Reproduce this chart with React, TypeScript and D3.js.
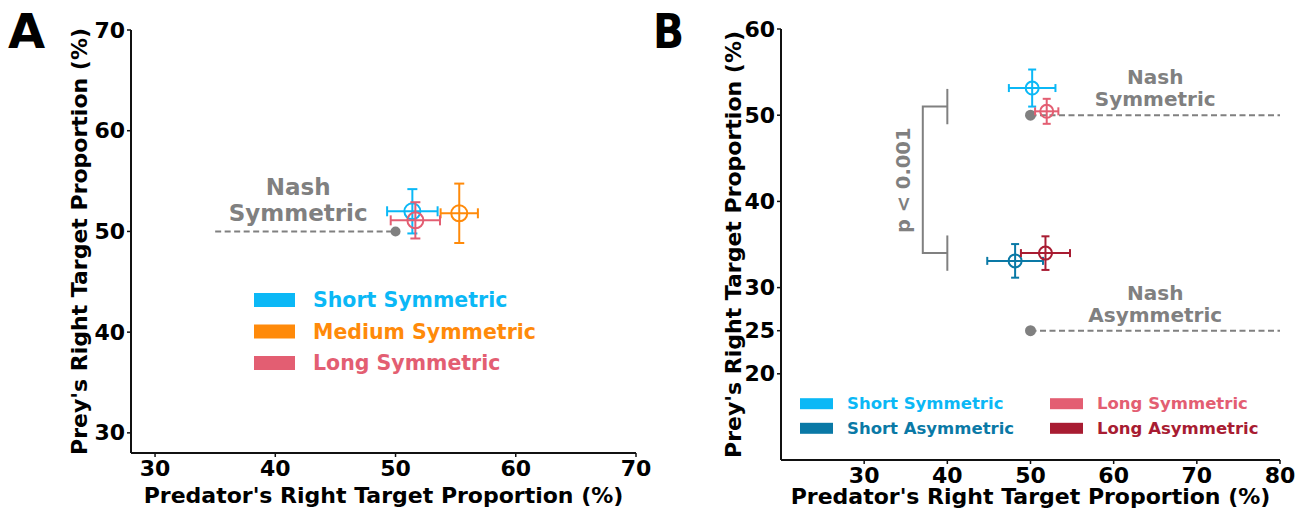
import React from "react";
import * as d3 from "d3";

// ---------- Data ----------
const groupsA = ["Short Symmetric", "Medium Symmetric", "Long Symmetric"];
const colorsA = ["#0BB8F6", "#FF8A0A", "#E35E72"];
const predA = [51.4, 55.3, 51.65];
const predErrA = [2.1, 1.55, 2.05];
const preyA = [52.0, 51.8, 51.1];
const preyErrA = [2.2, 2.95, 1.8];

const groupsB = ["Short Symmetric", "Long Symmetric", "Short Asymmetric", "Long Asymmetric"];
const colorsB = ["#0BB8F6", "#E35E72", "#0A79A6", "#A81C32"];
const predB = [50.2, 51.95, 48.15, 51.8];
const predErrB = [2.8, 1.4, 3.35, 2.95];
const preyB = [53.15, 50.45, 33.1, 34.0];
const preyErrB = [2.15, 1.45, 1.95, 1.95];

const xTicksA = [30, 40, 50, 60, 70];
const yTicksA = [30, 40, 50, 60, 70];
const xTicksB = [30, 40, 50, 60, 70, 80];
const yTicksB = [20, 25, 30, 40, 50, 60];

const nashA = [{ x: 50, y: 50, x0: 35, x1: 50 }];
const nashB = [
  { x: 50, y: 50, x0: 50, x1: 80 },
  { x: 50, y: 25, x0: 50, x1: 80 },
];
const nashLabelsA = [{ x: 41.9, lines: ["Nash", "Symmetric"], y: [53.6, 51.03] }];
const nashLabelsB = [
  { x: 65, lines: ["Nash", "Symmetric"], y: [53.6, 51.05] },
  { x: 65, lines: ["Nash", "Asymmetric"], y: [28.56, 26.0] },
];
const bracketB = { xv: 37.05, xt: 40, yTop: 51.0, yBot: 34.0, half: 2.05, label: "p < 0.001", lx: 34.78, ly: 42.45 };

const FONT = "DejaVu Sans";
const GRAY = "#808080";

function Axes({ x, y, xTicks, yTicks, xLabel, yLabel, yLabelX, xLabelY }: any) {
  const [x0, x1] = x.range();
  const [y0, y1] = y.range();
  return (
    <g fontFamily={FONT} fontWeight="bold">
      <line x1={x0} x2={x0} y1={y0} y2={y1} stroke="#111" strokeWidth={2} />
      <line x1={x0} x2={x1} y1={y0} y2={y0} stroke="#111" strokeWidth={2} />
      {xTicks.map((t: number) => (
        <g key={"x" + t}>
          <line x1={x(t)} x2={x(t)} y1={y0} y2={y0 + 4} stroke="#111" strokeWidth={1.5} />
          <text x={x(t)} y={y0 + 23} textAnchor="middle" fontSize={22} fill="#000">{t}</text>
        </g>
      ))}
      {yTicks.map((t: number) => (
        <g key={"y" + t}>
          <line x1={x0} x2={x0 - 4} y1={y(t)} y2={y(t)} stroke="#111" strokeWidth={1.5} />
          <text x={x0 - 6} y={y(t)} textAnchor="end" dominantBaseline="central" fontSize={22} fill="#000">{t}</text>
        </g>
      ))}
      <text x={(x0 + x1) / 2} y={xLabelY} textAnchor="middle" fontSize={22} fill="#000">{xLabel}</text>
      <text transform={`translate(${yLabelX},${(y0 + y1) / 2}) rotate(-90)`} textAnchor="middle" fontSize={22} fill="#000">{yLabel}</text>
    </g>
  );
}

function Points({ x, y, px, pxe, py, pye, colors, r, cap }: any) {
  return (
    <g fill="none" strokeWidth={2}>
      {px.map((_: number, i: number) => {
        const cx = x(px[i]);
        const cy = y(py[i]);
        const xa = x(px[i] - pxe[i]);
        const xb = x(px[i] + pxe[i]);
        const ya = y(py[i] - pye[i]);
        const yb = y(py[i] + pye[i]);
        const c = colors[i];
        return (
          <g key={i} stroke={c}>
            <line x1={xa} x2={xb} y1={cy} y2={cy} />
            <line x1={xa} x2={xa} y1={cy - cap} y2={cy + cap} />
            <line x1={xb} x2={xb} y1={cy - cap} y2={cy + cap} />
            <line x1={cx} x2={cx} y1={ya} y2={yb} />
            <line x1={cx - cap} x2={cx + cap} y1={ya} y2={ya} />
            <line x1={cx - cap} x2={cx + cap} y1={yb} y2={yb} />
            <circle cx={cx} cy={cy} r={r} />
          </g>
        );
      })}
    </g>
  );
}

export default function App() {
  const xA = d3.scaleLinear().domain([28, 70]).range([131, 636]);
  const yA = d3.scaleLinear().domain([28, 70]).range([453, 30]);
  const xB = d3.scaleLinear().domain([20, 80]).range([781, 1280]);
  const yB = d3.scaleLinear().domain([10, 60]).range([460, 29]);

  return (
    <svg width={1307} height={510} style={{ position: "absolute", left: 0, top: 0, background: "#fff" }}>
      {/* Panel labels */}
      <text x={8} y={48} fontFamily={FONT} fontWeight="bold" fontSize={48} fill="#000">A</text>
      <text x={653} y={48} fontFamily={FONT} fontWeight="bold" fontSize={48} fill="#000" transform="translate(653,0) scale(0.85,1) translate(-653,0)">B</text>

      {/* Panel A */}
      <Axes x={xA} y={yA} xTicks={xTicksA} yTicks={yTicksA}
        xLabel="Predator's Right Target Proportion (%)" yLabel="Prey's Right Target Proportion (%)"
        yLabelX={87} xLabelY={503} />
      {nashA.map((n, i) => (
        <g key={i}>
          <line x1={xA(n.x0)} x2={xA(n.x1)} y1={yA(n.y)} y2={yA(n.y)} stroke={GRAY} strokeWidth={2} strokeDasharray="6,3.5" />
          <circle cx={xA(n.x)} cy={yA(n.y)} r={5} fill={GRAY} />
        </g>
      ))}
      {nashLabelsA.map((l, i) => (
        <g key={i} fontFamily={FONT} fontWeight="bold" fontSize={23} fill={GRAY} textAnchor="middle">
          {l.lines.map((s, j) => <text key={j} x={xA(l.x)} y={yA(l.y[j])}>{s}</text>)}
        </g>
      ))}
      <Points x={xA} y={yA} px={predA} pxe={predErrA} py={preyA} pye={preyErrA} colors={colorsA} r={8} cap={5} />
      {groupsA.map((g, i) => (
        <g key={g}>
          <rect x={254} y={300 + i * 31.5 - 7} width={41} height={14} fill={colorsA[i]} />
          <text x={313} y={300 + i * 31.5} dominantBaseline="central" fontFamily={FONT} fontWeight="bold" fontSize={20.5} fill={colorsA[i]}>{g}</text>
        </g>
      ))}

      {/* Panel B */}
      <Axes x={xB} y={yB} xTicks={xTicksB} yTicks={yTicksB}
        xLabel="Predator's Right Target Proportion (%)" yLabel="Prey's Right Target Proportion (%)"
        yLabelX={741} xLabelY={504} />
      {/* bracket */}
      <g stroke={GRAY} strokeWidth={2} fill="none">
        <polyline points={`${xB(bracketB.xt)},${yB(bracketB.yTop)} ${xB(bracketB.xv)},${yB(bracketB.yTop)} ${xB(bracketB.xv)},${yB(bracketB.yBot)} ${xB(bracketB.xt)},${yB(bracketB.yBot)}`} />
        <line x1={xB(bracketB.xt)} x2={xB(bracketB.xt)} y1={yB(bracketB.yTop + bracketB.half)} y2={yB(bracketB.yTop - bracketB.half)} />
        <line x1={xB(bracketB.xt)} x2={xB(bracketB.xt)} y1={yB(bracketB.yBot + bracketB.half)} y2={yB(bracketB.yBot - bracketB.half)} />
      </g>
      <text transform={`translate(${xB(bracketB.lx)},${yB(bracketB.ly)}) rotate(-90)`} textAnchor="middle" dominantBaseline="central"
        fontFamily={FONT} fontWeight="bold" fontSize={19.5} fill={GRAY}>{bracketB.label}</text>
      {nashLabelsB.map((l, i) => (
        <g key={i} fontFamily={FONT} fontWeight="bold" fontSize={20} fill={GRAY} textAnchor="middle">
          {l.lines.map((s, j) => <text key={j} x={xB(l.x)} y={yB(l.y[j])}>{s}</text>)}
        </g>
      ))}
      {nashB.map((n, i) => (
        <g key={i}>
          <line x1={xB(n.x0)} x2={xB(n.x1)} y1={yB(n.y)} y2={yB(n.y)} stroke={GRAY} strokeWidth={2} strokeDasharray="6,3.5" />
          <circle cx={xB(n.x)} cy={yB(n.y)} r={5.5} fill={GRAY} />
        </g>
      ))}
      <Points x={xB} y={yB} px={predB} pxe={predErrB} py={preyB} pye={preyErrB} colors={colorsB} r={6.5} cap={4} />
      {groupsB.map((g, i) => {
        const col = i % 2 === 0 ? 0 : 1;
        const row = i < 2 ? 0 : 1;
        const sx = col === 0 ? 800 : 1050;
        const cy = 403.7 + row * 24.6;
        return (
          <g key={g}>
            <rect x={sx} y={cy - 5.5} width={33} height={11} fill={colorsB[i]} />
            <text x={sx + 47} y={cy} dominantBaseline="central" fontFamily={FONT} fontWeight="bold" fontSize={16.5} fill={colorsB[i]}>{g}</text>
          </g>
        );
      })}
    </svg>
  );
}
